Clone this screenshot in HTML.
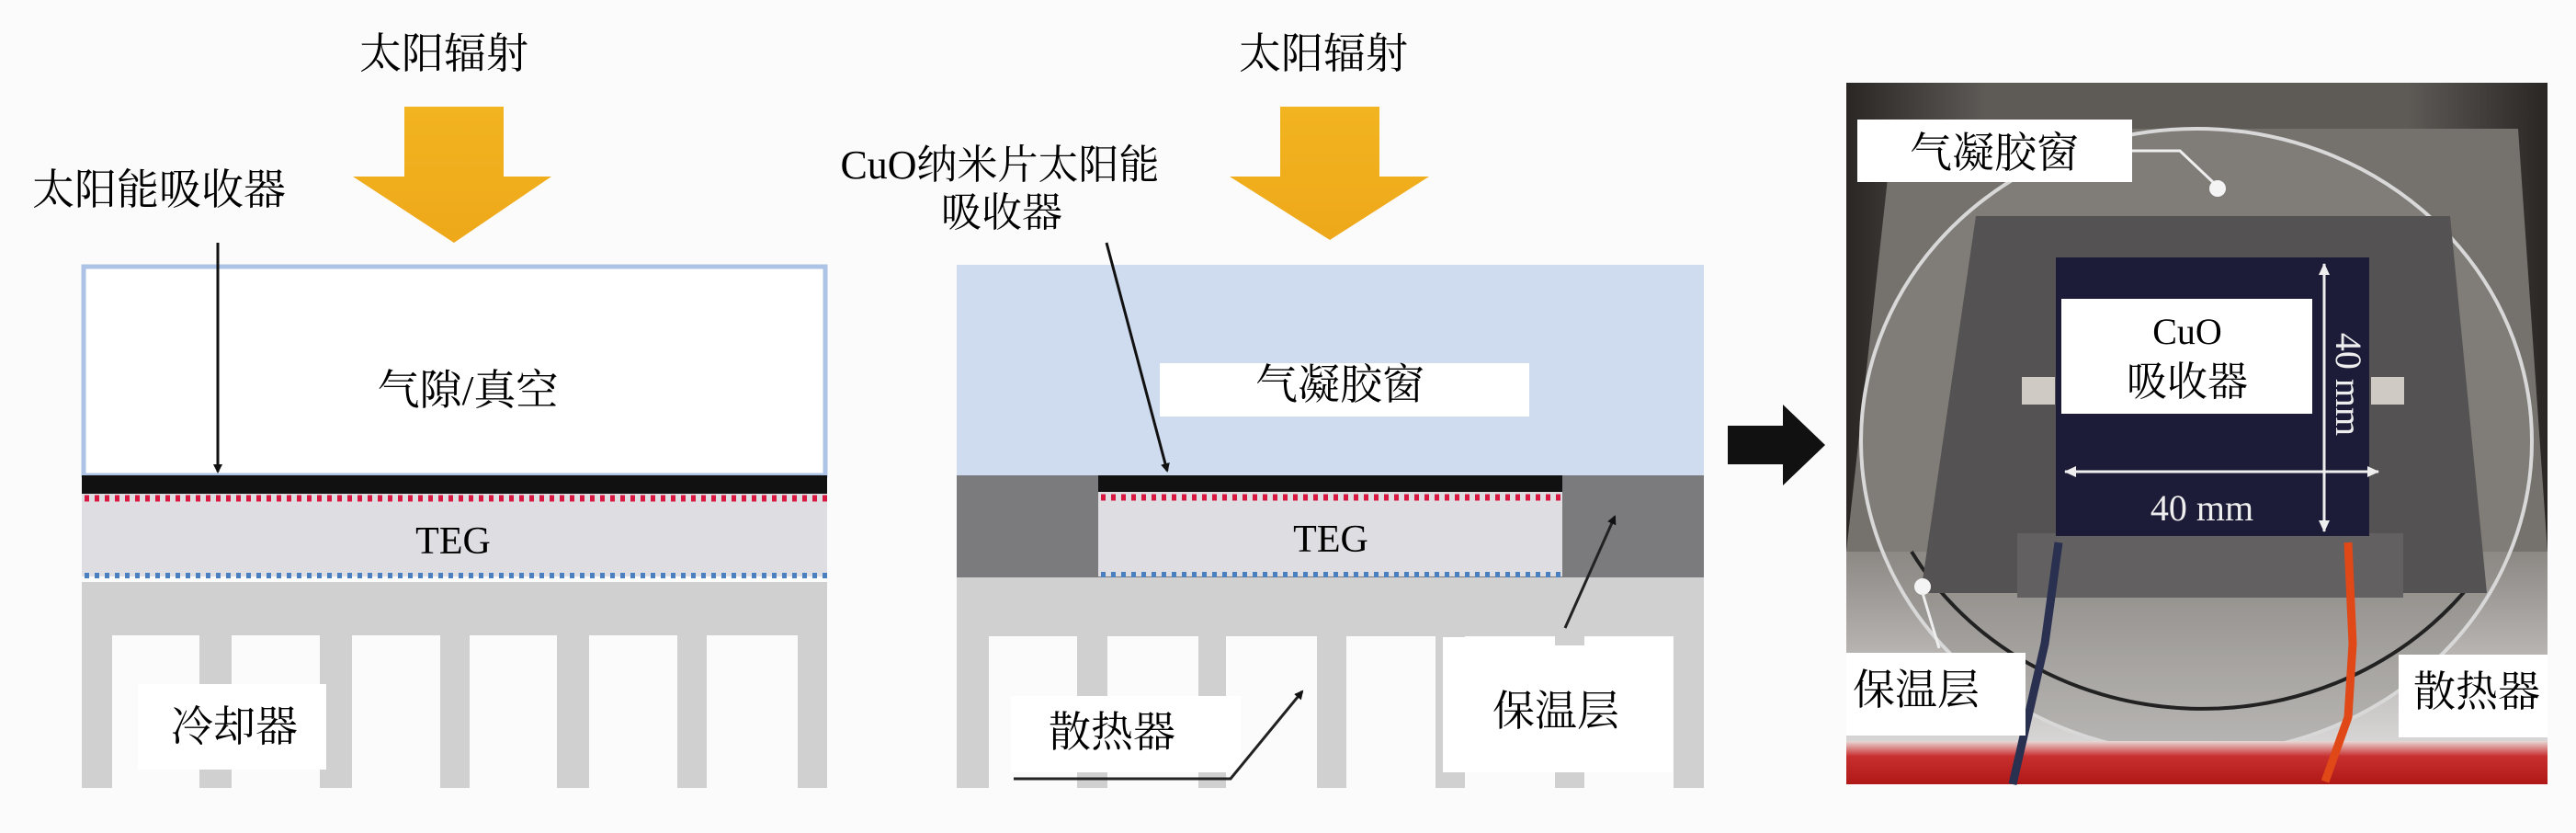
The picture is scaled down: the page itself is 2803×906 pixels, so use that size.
<!DOCTYPE html>
<html><head><meta charset="utf-8">
<style>
html,body{margin:0;padding:0;background:#fbfbfb;}
svg{display:block;}
text{font-family:"Liberation Serif","Noto Serif CJK SC",serif;}
</style></head>
<body>
<svg width="2803" height="906" viewBox="0 0 2803 906" xmlns="http://www.w3.org/2000/svg">
<defs>
<marker id="ah" markerWidth="10" markerHeight="10" refX="8" refY="5" orient="auto" markerUnits="userSpaceOnUse" viewBox="0 0 10 10">
<path d="M0,0 L10,5 L0,10 z" fill="#111"/></marker>
<marker id="ahw" markerWidth="14" markerHeight="14" refX="12" refY="7" orient="auto-start-reverse" markerUnits="userSpaceOnUse">
<path d="M0,1 L13,7 L0,13 z" fill="#eee"/></marker>
<linearGradient id="red" x1="0" y1="0" x2="0" y2="1">
<stop offset="0" stop-color="#e8d8d6"/><stop offset="0.35" stop-color="#c83030"/><stop offset="1" stop-color="#b01818"/></linearGradient>
<linearGradient id="metal" x1="0" y1="0" x2="0" y2="1">
<stop offset="0" stop-color="#8c8884"/><stop offset="0.6" stop-color="#bdbab8"/><stop offset="1" stop-color="#d8d6d6"/></linearGradient>
<linearGradient id="yel" x1="0" y1="0" x2="0" y2="1">
<stop offset="0" stop-color="#f2b420"/><stop offset="1" stop-color="#eea81a"/></linearGradient>
<linearGradient id="bg" x1="0" y1="0" x2="1" y2="0">
<stop offset="0" stop-color="#2a2624"/><stop offset="0.2" stop-color="#5e5a56"/><stop offset="0.8" stop-color="#5e5a56"/><stop offset="1" stop-color="#2a2624"/></linearGradient>
</defs>

<!-- ===== LEFT PANEL ===== -->
<text x="483" y="74" font-size="46" text-anchor="middle">太阳辐射</text>
<polygon points="440,116 548,116 548,192 600,192 494,264 384,192 440,192" fill="url(#yel)"/>
<text x="35" y="222" font-size="46">太阳能吸收器</text>
<rect x="91" y="290" width="807" height="227" fill="#fff" stroke="#adc3e6" stroke-width="5"/>
<text x="509" y="440" font-size="46" text-anchor="middle">气隙/真空</text>
<rect x="89" y="633" width="811" height="58" fill="#d0d0d0"/>
<g fill="#d0d0d0">
<rect x="89" y="690" width="33" height="167"/>
<rect x="217" y="690" width="35" height="167"/>
<rect x="348" y="690" width="35" height="167"/>
<rect x="479" y="690" width="32" height="167"/>
<rect x="606" y="690" width="35" height="167"/>
<rect x="737" y="690" width="32" height="167"/>
<rect x="868" y="690" width="32" height="167"/>
</g>
<rect x="150" y="744" width="205" height="93" fill="#fff"/>
<text x="255" y="806" font-size="46" text-anchor="middle">冷却器</text>
<rect x="89" y="537" width="811" height="90" fill="#dedde2"/>
<rect x="89" y="517" width="811" height="20" fill="#111"/>
<line x1="92" y1="542" x2="900" y2="542" stroke="#d81840" stroke-width="7" stroke-dasharray="5 6"/>
<line x1="92" y1="626" x2="900" y2="626" stroke="#4a80c0" stroke-width="6" stroke-dasharray="5 6"/>
<text x="493" y="602" font-size="42" text-anchor="middle">TEG</text>
<line x1="237" y1="264" x2="237" y2="513" stroke="#111" stroke-width="3" marker-end="url(#ah)"/>

<!-- ===== MIDDLE PANEL ===== -->
<text x="1440" y="74" font-size="46" text-anchor="middle">太阳辐射</text>
<polygon points="1393,116 1501,116 1501,192 1555,192 1447,261 1338,192 1393,192" fill="url(#yel)"/>
<text x="1088" y="194" font-size="44" text-anchor="middle">CuO纳米片太阳能</text>
<text x="1090" y="246" font-size="44" text-anchor="middle">吸收器</text>
<rect x="1041" y="288" width="813" height="229" fill="#cfdcef"/>
<rect x="1262" y="395" width="402" height="58" fill="#fff"/>
<text x="1458" y="434" font-size="46" text-anchor="middle">气凝胶窗</text>
<rect x="1041" y="517" width="813" height="111" fill="#7b7b7d"/>
<rect x="1041" y="628" width="813" height="64" fill="#d0d0d0"/>
<g fill="#d0d0d0">
<rect x="1041" y="690" width="35" height="167"/>
<rect x="1172" y="690" width="33" height="167"/>
<rect x="1304" y="690" width="30" height="167"/>
<rect x="1433" y="690" width="32" height="167"/>
<rect x="1562" y="690" width="32" height="167"/>
<rect x="1692" y="690" width="32" height="167"/>
<rect x="1821" y="690" width="33" height="167"/>
</g>
<rect x="1100" y="757" width="250" height="83" fill="#fff"/>
<rect x="1570" y="693" width="250" height="147" fill="#fff"/>
<rect x="1692" y="690" width="32" height="12" fill="#d0d0d0"/>
<text x="1210" y="812" font-size="46" text-anchor="middle">散热器</text>
<text x="1693" y="789" font-size="46" text-anchor="middle">保温层</text>
<rect x="1195" y="535" width="505" height="92" fill="#dedde2"/>
<rect x="1195" y="517" width="505" height="18" fill="#111"/>
<line x1="1198" y1="541" x2="1700" y2="541" stroke="#d81840" stroke-width="7" stroke-dasharray="5 6"/>
<line x1="1198" y1="625" x2="1700" y2="625" stroke="#4a80c0" stroke-width="6" stroke-dasharray="5 6"/>
<text x="1448" y="600" font-size="42" text-anchor="middle">TEG</text>
<line x1="1204" y1="264" x2="1270" y2="512" stroke="#111" stroke-width="3" marker-end="url(#ah)"/>
<polyline points="1103,847 1339,847 1417,752" fill="none" stroke="#222" stroke-width="3" marker-end="url(#ah)"/>
<line x1="1703" y1="683" x2="1757" y2="562" stroke="#222" stroke-width="3" marker-end="url(#ah)"/>

<polygon points="1880,463 1940,463 1940,440 1986,484 1940,528 1940,505 1880,505" fill="#111"/>

<!-- ===== PHOTO ===== -->
<rect x="2009" y="90" width="763" height="763" fill="url(#bg)"/>
<polygon points="2060,140 2740,140 2772,600 2009,600" fill="#75716c"/>
<rect x="2009" y="600" width="763" height="210" fill="url(#metal)"/>
<ellipse cx="2390" cy="480" rx="365" ry="340" fill="#8e8b88" fill-opacity="0.45" stroke="#d8d8d8" stroke-width="4"/>
<path d="M2080,600 A365,340 0 0 0 2700,620" fill="none" stroke="#222" stroke-width="4"/>
<polygon points="2150,235 2666,235 2706,645 2090,645" fill="#545252"/>
<rect x="2195" y="580" width="420" height="70" fill="#626060"/>
<rect x="2009" y="806" width="763" height="47" fill="url(#red)"/>
<rect x="2200" y="410" width="36" height="30" fill="#cfcac4"/>
<rect x="2580" y="410" width="36" height="30" fill="#cfcac4"/>
<rect x="2237" y="280" width="341" height="303" fill="#1c1c38"/>
<rect x="2243" y="325" width="273" height="125" fill="#fff"/>
<text x="2380" y="374" font-size="40" text-anchor="middle">CuO</text>
<text x="2380" y="430" font-size="44" text-anchor="middle">吸收器</text>
<line x1="2247" y1="513" x2="2588" y2="513" stroke="#eee" stroke-width="3" marker-start="url(#ahw)" marker-end="url(#ahw)"/>
<line x1="2529" y1="287" x2="2529" y2="578" stroke="#eee" stroke-width="3" marker-start="url(#ahw)" marker-end="url(#ahw)"/>
<text x="2396" y="566" font-size="40" fill="#eee" text-anchor="middle">40 mm</text>
<text x="0" y="0" font-size="40" fill="#eee" text-anchor="middle" transform="translate(2542,418) rotate(90)">40 mm</text>
<path d="M2240,590 L2225,700 L2190,853" fill="none" stroke="#2a3050" stroke-width="9"/>
<path d="M2555,590 L2560,700 L2555,780 L2530,850" fill="none" stroke="#e04818" stroke-width="9"/>
<rect x="2021" y="130" width="299" height="68" fill="#fff"/>
<text x="2170" y="182" font-size="46" text-anchor="middle">气凝胶窗</text>
<polyline points="2320,164 2372,164 2410,200" fill="none" stroke="#eee" stroke-width="3"/>
<circle cx="2413" cy="205" r="9" fill="#f4f4f4"/>
<circle cx="2092" cy="638" r="9" fill="#f4f4f4"/>
<line x1="2092" y1="645" x2="2110" y2="705" stroke="#eee" stroke-width="3"/>
<rect x="2009" y="710" width="195" height="90" fill="#fff"/>
<text x="2085" y="766" font-size="46" text-anchor="middle">保温层</text>
<rect x="2610" y="712" width="162" height="90" fill="#fff"/>
<text x="2695" y="768" font-size="46" text-anchor="middle">散热器</text>
</svg>
</body></html>
